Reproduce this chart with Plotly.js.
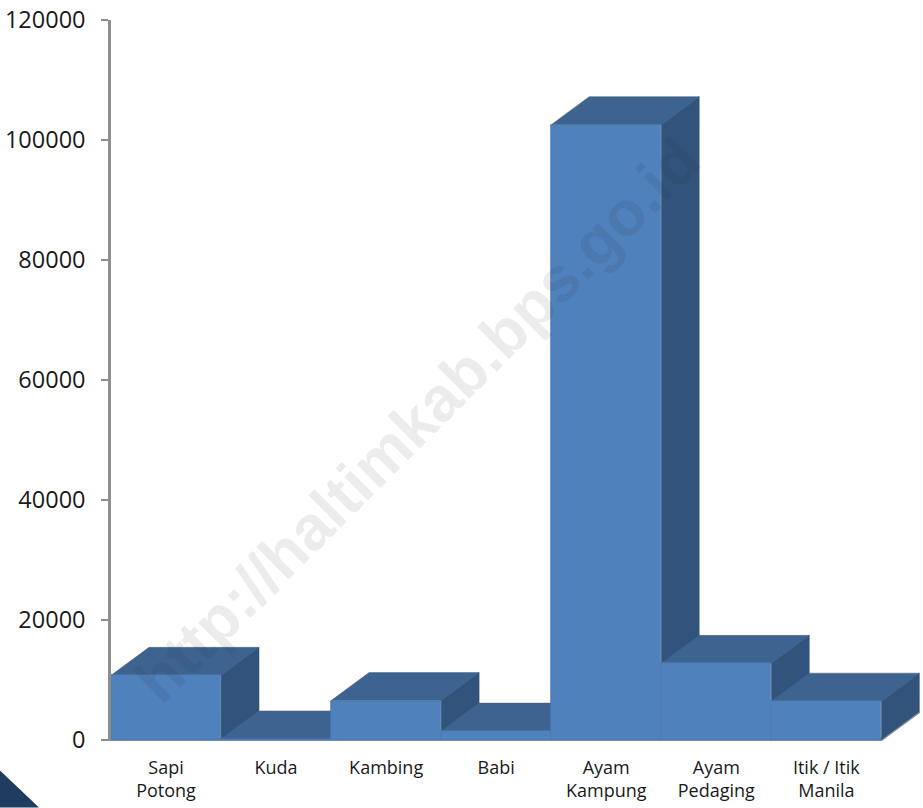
<!DOCTYPE html>
<html>
<head>
<meta charset="utf-8">
<script src="https://cdn.plot.ly/plotly-3.0.1.min.js"></script>
<style>html,body{margin:0;padding:0;background:#fff}#chart{width:923px;height:808px}</style>
</head>
<body>
<div id="chart"></div>
<script>
const categories = ["Sapi Potong", "Kuda", "Kambing", "Babi", "Ayam Kampung", "Ayam Pedaging", "Itik / Itik Manila"];
const tickLabels = ["Sapi<br>Potong", "Kuda", "Kambing", "Babi", "Ayam<br>Kampung", "Ayam<br>Pedaging", "Itik / Itik<br>Manila"];
const values = [10700, 100, 6500, 1400, 102550, 12700, 6400];
const yTicks = [0, 20000, 40000, 60000, 80000, 100000, 120000];

const depthX = 0.345, depthY = 4667;
const colFront = "#4F81BD", colTop = "#3D6491", colSide = "#32547C", colAxis = "#8E8E8E";
const xRange = [-0.5, 6.86], yRange = [-250, 120000];
const idx = categories.map((_, i) => i);

function poly(xs, ys, color) {
  return {type: "scatter", mode: "lines", x: xs.concat(xs[0]), y: ys.concat(ys[0]),
    fill: "toself", fillcolor: color, line: {color: color, width: 0.5},
    hoverinfo: "skip", showlegend: false, xaxis: "x", yaxis: "y"};
}

const traces = [];
// floor: front edge and the receding right edge
const n = values.length;
traces.push({type: "scatter", mode: "lines", x: [-0.5, n - 0.5, n - 0.5 + depthX], y: [0, 0, depthY],
  line: {color: colAxis, width: 3}, hoverinfo: "skip", showlegend: false, xaxis: "x", yaxis: "y"});
// receding faces from the values
idx.forEach(i => {
  const l = i - 0.5, r = i + 0.5, v = values[i];
  traces.push(poly([l, l + depthX, r + depthX, r], [v, v + depthY, v + depthY, v], colTop));
  traces.push(poly([r, r + depthX, r + depthX, r], [v, v + depthY, depthY, 0], colSide));
});
// front faces
traces.push({type: "bar", x: idx, y: values, width: 1, text: categories, hoverinfo: "text+y", textposition: "none",
  marker: {color: colFront, line: {color: "#4776AE", width: 0.7}}, showlegend: false, xaxis: "x2", yaxis: "y2"});

const pT = 20, pB = 741.5, pL = 111, pR = 921;
const px = v => (v - pL) / (pR - pL), py = v => (pB - v) / (pB - pT);

const layout = {
  width: 923, height: 808,
  margin: {l: pL, r: 923 - pR, t: pT, b: 808 - pB, pad: 0},
  paper_bgcolor: "#fff", plot_bgcolor: "rgba(0,0,0,0)",
  showlegend: false, bargap: 0,
  font: {family: "'Open Sans', sans-serif", color: "#1a1a1a"},
  xaxis: {range: xRange, tickmode: "array", tickvals: idx, ticktext: tickLabels, showgrid: false, zeroline: false,
    showline: false, ticks: "", tickfont: {size: 18, color: "#1a1a1a"}, ticklabelstandoff: 14, fixedrange: true},
  yaxis: {range: yRange, tickmode: "array", tickvals: yTicks, ticktext: yTicks.map(String), showgrid: false, zeroline: false,
    showline: true, linecolor: colAxis, linewidth: 2.5, ticks: "outside", ticklen: 7, tickwidth: 2, tickcolor: colAxis,
    tickfont: {size: 23.5, color: "#1a1a1a"}, ticklabelstandoff: 11, fixedrange: true},
  xaxis2: {range: xRange, overlaying: "x", visible: false, fixedrange: true},
  yaxis2: {range: yRange, overlaying: "y", visible: false, fixedrange: true},
  shapes: [{type: "path", xref: "paper", yref: "paper", layer: "above", line: {width: 0}, fillcolor: "#1F3D60",
    path: `M ${px(0)} ${py(771)} L ${px(39)} ${py(808)} L ${px(0)} ${py(808)} Z`}],
  annotations: [{text: "<b>http://haltimkab.bps.go.id</b>", xref: "paper", yref: "paper", x: px(417), y: py(420),
    xanchor: "center", yanchor: "middle", showarrow: false, textangle: -45,
    font: {family: "Liberation Sans", size: 63, weight: 700, color: "rgba(30,30,30,0.085)"}}]
};

Plotly.newPlot("chart", traces, layout, {displayModeBar: false});
</script>
</body>
</html>
